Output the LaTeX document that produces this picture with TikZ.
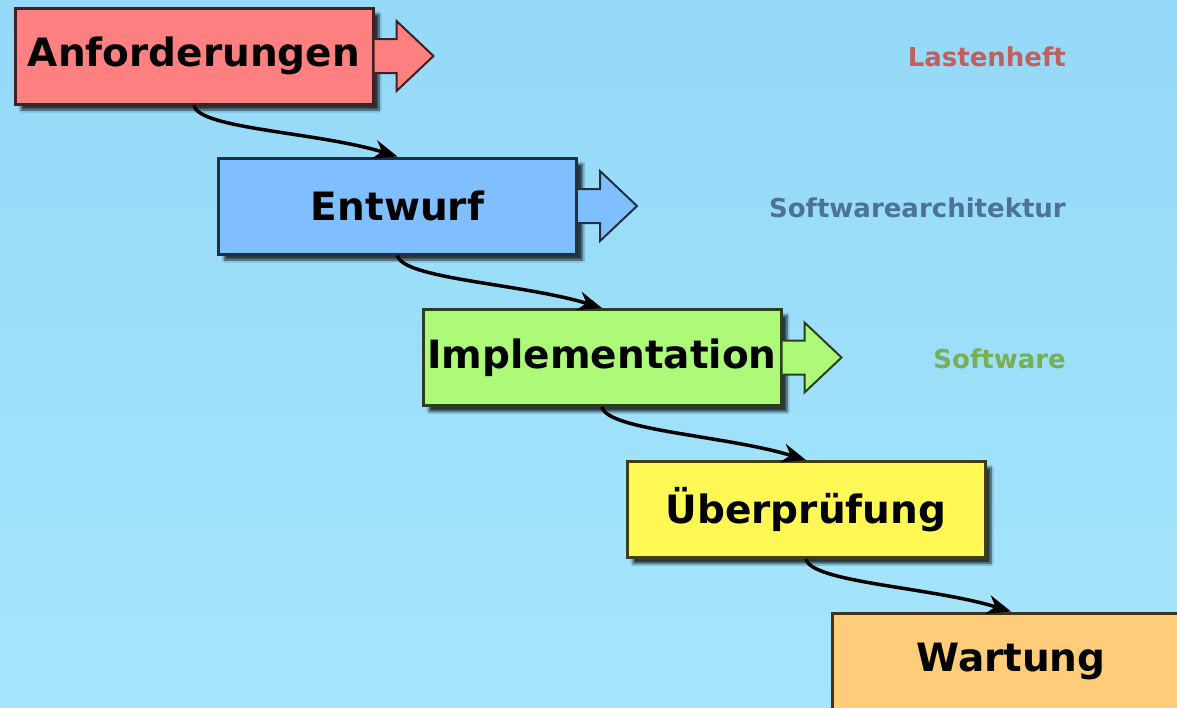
\documentclass[tikz,border=0pt]{standalone}
\usepackage{fontspec}
\setmainfont{DejaVu Sans}
\usetikzlibrary{arrows.meta,shadows.blur}

\definecolor{anfcol}{RGB}{255,128,128}
\definecolor{entcol}{RGB}{128,191,255}
\definecolor{impcol}{RGB}{172,250,120}
\definecolor{uebcol}{RGB}{255,248,85}
\definecolor{wartcol}{RGB}{255,204,122}
\definecolor{skytop}{RGB}{148,217,248}
\definecolor{skybot}{RGB}{166,229,252}

\begin{document}
\begin{tikzpicture}[x=1pt, y=1pt,
    phase/.style={draw=#1!25!black, fill=#1, line width=3pt, text width=352pt, align=center,
      minimum width=358pt, minimum height=96pt, inner sep=0pt,
      font=\fontsize{39}{46}\selectfont\bfseries,
      blur shadow={shadow xshift=6pt, shadow yshift=-6pt, shadow opacity=75, shadow blur steps=8}},
    result/.style={anchor=east, inner sep=0pt, text=#1, font=\fontsize{26}{30}\selectfont\bfseries},
    flow/.style={-{Stealth[length=24pt, width=19pt]}, line width=3.5pt, out=-78, in=163, out distance=24pt, in distance=84pt},
    outarrow/.style={draw=#1!25!black, fill=#1, line width=2pt}]
  \useasboundingbox (0,0) rectangle (1177,-707);
  \shade[top color=skytop, bottom color=skybot] (0,0) rectangle (1177,-707);

  \node[phase=anfcol] (anf) at (194,-56) {Anforderungen};
  \node[phase=entcol] (ent) at (397.5,-206) {Entwurf};
  \node[phase=impcol] (imp) at (602,-357.5) {Implementation};
  \node[phase=uebcol] (ueb) at (806,-509.5) {Überprüfung};
  \node[phase=wartcol] (wart) at (1011,-661) {Wartung};

  % results of the phases
  \foreach \n/\c in {anf/anfcol, ent/entcol, imp/impcol}
    \draw[outarrow=\c] (\n.east) ++(0,17) -- ++(22,0) -- ++(0,18) -- ++(37,-35) -- ++(-37,-35) -- ++(0,18) -- ++(-22,0);
  \node[result=anfcol!75!black] (lh) at (1066,-57) {Lastenheft};
  \node[result=entcol!60!black] (sa) at (1066,-208) {Softwarearchitektur};
  \node[result=impcol!70!black] (sw) at (1066,-359) {Software};

  \draw[flow] (anf.south) to (ent.north);
  \draw[flow] (ent.south) to (imp.north);
  \draw[flow] (imp.south) to (ueb.north);
  \draw[flow] (ueb.south) to (wart.north);
\end{tikzpicture}
\end{document}
